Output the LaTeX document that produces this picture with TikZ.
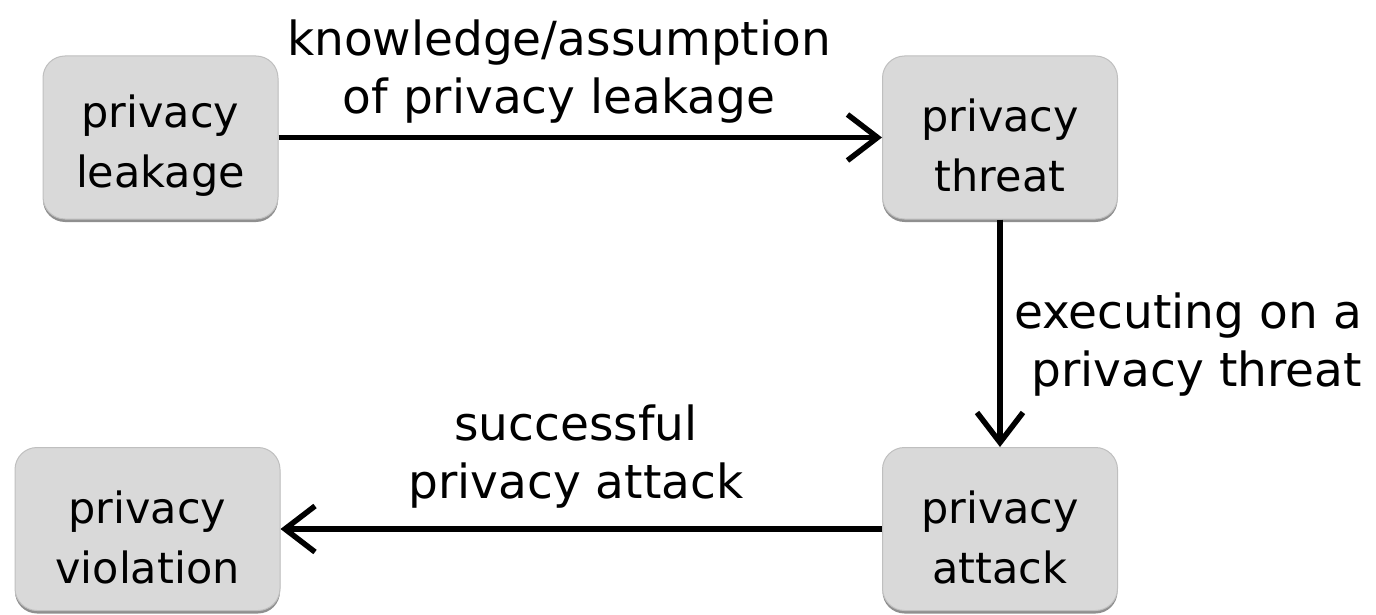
\documentclass[tikz,border=0pt]{standalone}
\usepackage{fontspec}
\setmainfont{DejaVu Sans}
\usetikzlibrary{arrows.meta,shadows}
\begin{document}
\begin{tikzpicture}[x=1pt,y=-1pt,
  box/.style={draw=black!25, line width=1pt, fill=black!15, rounded corners=22pt,
    minimum height=163pt, inner sep=0pt,
    drop shadow={shadow xshift=0pt, shadow yshift=-3pt, fill=black!55, opacity=0.8}},
  boxtxt/.style={align=center, inner sep=0pt, yshift=-8pt,
    font=\fontsize{43}{60}\selectfont},
  lbl/.style={align=center, inner sep=0pt, font=\fontsize{47}{58}\selectfont},
  conn/.style={line width=5.5pt, -{Straight Barb[length=30pt,width=46pt]}}]
\useasboundingbox (0,0) rectangle (1376,615);
\node[box, minimum width=235pt, label={[boxtxt]center:{privacy\\leakage}}] (leak) at (160.5,137.5) {};
\node[box, minimum width=235pt, label={[boxtxt]center:{privacy\\threat}}] (threat) at (1000,137.5) {};
\node[box, minimum width=235pt, label={[boxtxt]center:{privacy\\attack}}] (attack) at (1000,529) {};
\node[box, minimum width=265pt, label={[boxtxt]center:{privacy\\violation}}] (viol) at (147.5,529) {};
\draw[conn] (leak.east) -- (threat.west);
\draw[conn] (threat.south) -- (attack.north);
\draw[conn] (attack.west) -- (viol.east);
\node[lbl] (l1) at (559,72) {knowledge/assumption\\of privacy leakage};
\node[lbl, align=right, anchor=east] (l2) at (1362,345) {executing on a\\privacy threat};
\node[lbl] (l3) at (576,457) {successful\\privacy attack};
\end{tikzpicture}
\end{document}
